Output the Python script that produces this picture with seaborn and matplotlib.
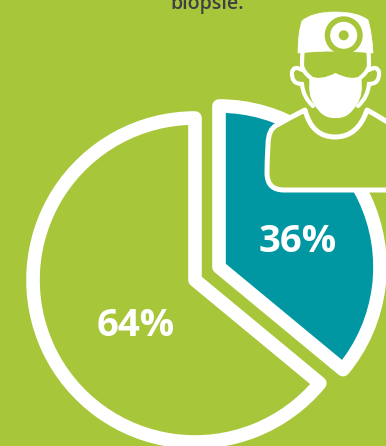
import matplotlib
matplotlib.use("Agg")
import matplotlib.pyplot as plt
import seaborn as sns
from matplotlib.patches import Circle, PathPatch
from matplotlib.path import Path

# Share of each group, in percent
group_labels = ["64%", "36%"]
group_shares = [64, 36]

BACKGROUND = "#A8C639"
TEAL = "#0097A2"
WHITE = "#FFFFFF"
DARK = "#3F4044"

WIDTH, HEIGHT = 386, 446
sns.set_theme(style="white", rc={"font.family": ["Open Sans", "DejaVu Sans"]})

fig = plt.figure(figsize=(WIDTH / 100, HEIGHT / 100), dpi=100, facecolor=BACKGROUND)
ax = fig.add_axes([0, 0, 1, 1], facecolor=BACKGROUND)


def flip(points):
    """Canvas coordinates run downward; the axes run upward."""
    return [(x, HEIGHT - y) for x, y in points]


def smooth_patch(points, closed=True, **style):
    """Draw a rounded outline: every second point is a quadratic control point."""
    verts = flip(points)
    codes = [Path.MOVETO]
    for _ in range((len(verts) - 1) // 2):
        codes += [Path.CURVE3, Path.CURVE3]
    if closed:
        verts = verts + [verts[0]]
        codes = codes + [Path.CLOSEPOLY]
    patch = PathPatch(Path(verts, codes), **style)
    ax.add_patch(patch)
    return patch


stroke = {"edgecolor": WHITE, "linewidth": 9.8, "joinstyle": "round"}

# Larger slice, opening anticlockwise from twelve o'clock
ax.pie([group_shares[0] / 100], normalize=False, startangle=90, counterclock=True,
       center=(195, HEIGHT - 280), radius=162, colors=[BACKGROUND], wedgeprops=stroke)
# Smaller slice, offset up and to the right, running clockwise
ax.pie([group_shares[1] / 100], normalize=False, startangle=90, counterclock=False,
       center=(219, HEIGHT - 267), radius=161, colors=[TEAL], wedgeprops=stroke)

ax.set_xlim(0, WIDTH)
ax.set_ylim(0, HEIGHT)
ax.set_aspect("equal")
ax.set_axis_off()

# Doctor: gown
gown = [(392, 125), (380, 117), (367, 110), (358, 137), (335, 137), (312, 137), (305, 110),
        (291, 117), (277, 125), (268, 129), (268, 145), (267, 160), (267, 173),
        (267, 190), (284, 190), (335, 190), (392, 190), (392, 158), (392, 125)]
smooth_patch(gown, facecolor=BACKGROUND, edgecolor=WHITE, linewidth=3.6, joinstyle="round")

# Doctor: face outline and ears, mirrored about the head's axis
AXIS = 335.5
left_side = [(302.5, 52), (302, 60), (302, 66), (304, 73), (311, 78)]
left_ear = [(302, 70), (294, 65), (292, 72), (291, 84), (302, 84),
            (303, 97), (313, 106)]
for outline in (left_side, left_ear):
    mirrored = [(2 * AXIS - x, y) for x, y in outline]
    for pts in (outline, mirrored):
        smooth_patch(pts, closed=False, facecolor="none", edgecolor=WHITE,
                     linewidth=3.0, capstyle="round")

# Doctor: mask
mask = [(310, 76), (320, 81), (335.5, 73), (351, 81), (361, 76), (364, 95), (357, 104),
        (349, 119), (335.5, 118), (322, 119), (314, 104), (307, 95), (310, 76)]
smooth_patch(mask, facecolor=WHITE, edgecolor="none")

# Doctor: cap with head mirror
cap = [(298, 53), (298, 33), (302, 21), (312, 12), (335, 12), (358, 12), (368, 20),
       (372, 33), (373, 53), (335, 49), (298, 53)]
smooth_patch(cap, facecolor=WHITE, edgecolor=WHITE, linewidth=0.5)
for radius, colour in zip((19, 13.5, 5), (BACKGROUND, WHITE, BACKGROUND)):
    ax.add_patch(Circle((343.7, HEIGHT - 35.3), radius, facecolor=colour, edgecolor="none"))

# Percentage labels
for label, (x, y) in zip(group_labels, [(136, 321.5), (298, 237)]):
    ax.text(x, HEIGHT - y, label, color=WHITE, fontsize=27.5, fontweight="bold",
            ha="center", va="center_baseline")

# End of the sentence running above the chart
ax.text(207.5, HEIGHT - 9.5, "biopsie.", color=DARK, fontsize=14, fontweight="semibold",
        ha="center", va="baseline")

fig.savefig("out.png", dpi=100, facecolor=BACKGROUND)
